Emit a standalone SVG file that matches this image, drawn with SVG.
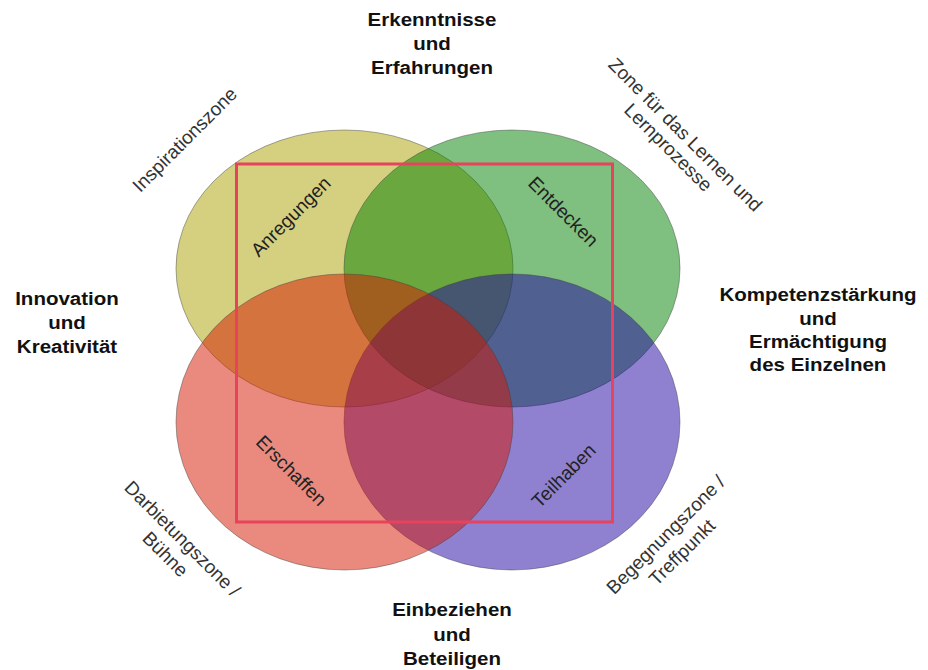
<svg xmlns="http://www.w3.org/2000/svg" width="928" height="670" viewBox="0 0 928 670">
<style>
.el{fill-opacity:0.5;stroke:#404040;stroke-opacity:0.45;stroke-width:1}
.b{font-family:"Liberation Sans",Arial,sans-serif;font-weight:bold;font-size:19px;fill:#111;text-anchor:middle}
.r{font-family:"Liberation Sans",Arial,sans-serif;font-size:19px;fill:#222;text-anchor:middle}
.o{font-family:"Liberation Sans",Arial,sans-serif;font-size:19px;fill:#333;text-anchor:middle}
</style>
<rect width="928" height="670" fill="#fff"/>
<g id="venn">
<g id="inspiration"><ellipse class="el" cx="344.5" cy="268.5" rx="168.5" ry="138.5" fill="#a9a100"/></g>
<g id="lernen"><ellipse class="el" cx="512" cy="268.5" rx="168" ry="138.5" fill="#007f00"/></g>
<g id="begegnung"><ellipse class="el" cx="512" cy="422" rx="168" ry="148" fill="#2101a1"/></g>
<g id="darbietung"><ellipse class="el" cx="344.5" cy="422" rx="168.5" ry="148" fill="#d51500"/></g>
</g>
<g id="frame"><rect x="236.5" y="164" width="376" height="358" fill="none" stroke="#e8435c" stroke-width="3"/></g>
<g id="inner-labels">
<text class="r" transform="translate(291,217) rotate(-45)" y="6">Anregungen</text>
<text class="r" transform="translate(563,212) rotate(45)" y="6">Entdecken</text>
<text class="r" transform="translate(291,471) rotate(45)" y="6">Erschaffen</text>
<text class="r" transform="translate(564,476) rotate(-45)" y="6">Teilhaben</text>
</g>
<g id="zone-labels">
<text class="o" transform="translate(185,140) rotate(-45)" y="6">Inspirationszone</text>
<text class="o" transform="translate(685,135) rotate(45)"><tspan x="0" y="6">Zone für das Lernen und</tspan><tspan x="-3" y="27">Lernprozesse</tspan></text>
<text class="o" transform="translate(182,539) rotate(45)"><tspan x="0" y="6">Darbietungszone /</tspan><tspan x="-1" y="29">Bühne</tspan></text>
<text class="o" transform="translate(666,535) rotate(-45)"><tspan x="0" y="6">Begegnungszone /</tspan><tspan x="-1" y="30">Treffpunkt</tspan></text>
</g>
<g id="outer-labels">
<text class="b" transform="translate(432,0) scale(1.08,1)"><tspan x="0" y="26">Erkenntnisse</tspan><tspan x="0" y="50">und</tspan><tspan x="0" y="74">Erfahrungen</tspan></text>
<text class="b" transform="translate(67,0) scale(1.08,1)"><tspan x="0" y="305">Innovation</tspan><tspan x="0" y="329">und</tspan><tspan x="0" y="353">Kreativität</tspan></text>
<text class="b" transform="translate(818,0) scale(1.08,1)"><tspan x="0" y="301">Kompetenzstärkung</tspan><tspan x="0" y="325">und</tspan><tspan x="0" y="348">Ermächtigung</tspan><tspan x="0" y="371">des Einzelnen</tspan></text>
<text class="b" transform="translate(452,0) scale(1.08,1)"><tspan x="0" y="616">Einbeziehen</tspan><tspan x="0" y="641">und</tspan><tspan x="0" y="665">Beteiligen</tspan></text>
</g>
</svg>
